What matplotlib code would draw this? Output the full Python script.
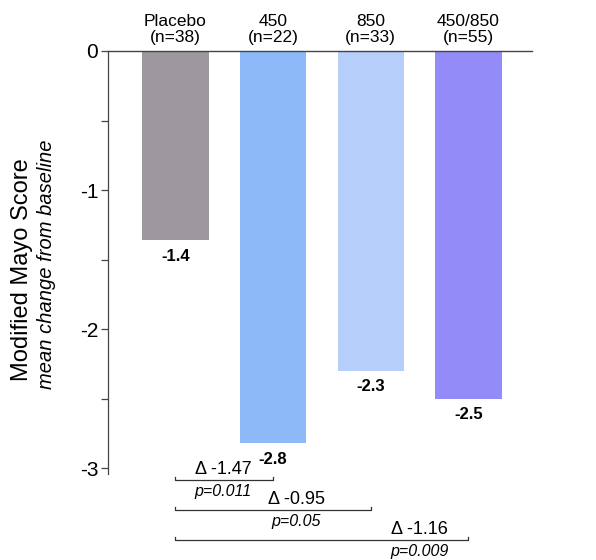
import numpy as np
import matplotlib
matplotlib.use('Agg')
import matplotlib.pyplot as plt

plt.rcParams['font.family'] = ['Liberation Sans', 'DejaVu Sans']

# Data
groups = ['Placebo', '450', '850', '450/850']
n_values = [38, 22, 33, 55]
mean_change = [-1.36, -2.82, -2.30, -2.50]
colors = ['#9c989d', '#8db9f8', '#b6cefa', '#938cf8']

# Pairwise comparisons vs placebo
comp_to = [1, 2, 3]
comp_delta = ['-1.47', '-0.95', '-1.16']
comp_p = ['0.011', '0.05', '0.009']
comp_text_x = [0.49, 1.24, 2.5]      # where the labels sit along each bracket
comp_y = [-3.085, -3.30, -3.515]

fig = plt.figure(figsize=(5.96, 5.6), dpi=100)
ax = fig.add_axes([108 / 596, 1 - 474 / 560, (532 - 108) / 596, (474 - 51) / 560])

x = np.arange(len(groups))
ax.bar(x, mean_change, width=0.68, color=colors, zorder=2)

# value labels under each bar
for xi, v in zip(x, mean_change):
    ax.text(xi, v - 0.06, f'{v:.1f}', ha='center', va='top',
            fontsize=12, fontweight='bold')

# group headers above the zero line
for xi, g, n in zip(x, groups, n_values):
    ax.text(xi, 0.04, f'{g}\n(n={n})', ha='center', va='bottom',
            fontsize=12.5, linespacing=1.1)

ax.set_xlim(-0.69, 3.65)
ax.set_ylim(-3.04, 0)
ax.set_xticks([])
ax.set_yticks([0, -1, -2, -3])
ax.set_yticklabels(['0', '-1', '-2', '-3'], fontsize=15)
ax.set_yticks([-0.5, -1.5, -2.5], minor=True)
ax.tick_params(axis='y', which='both', direction='out', length=5,
               width=0.9, color='#444444', pad=2)

for s in ['right', 'bottom']:
    ax.spines[s].set_visible(False)
ax.spines['left'].set_color('#444444')
ax.spines['top'].set_color('#444444')
ax.spines['left'].set_linewidth(0.9)
ax.spines['top'].set_linewidth(1.0)

# brackets
for end, d, p, tx, y in zip(comp_to, comp_delta, comp_p, comp_text_x, comp_y):
    ax.plot([0, 0, end, end], [y + 0.025, y, y, y + 0.025],
            color='#333333', lw=0.9, clip_on=False)
    ax.text(tx, y + 0.015, f'\u0394 {d}', ha='center', va='bottom',
            fontsize=13, clip_on=False)
    ax.text(tx, y - 0.03, f'p={p}', ha='center', va='top',
            fontsize=11.5, style='italic', clip_on=False)

fig.text(22 / 596, 1 - 270 / 560, 'Modified Mayo Score', rotation=90,
         ha='center', va='center', fontsize=17)
fig.text(47 / 596, 1 - 264 / 560, 'mean change from baseline', rotation=90,
         ha='center', va='center', fontsize=14.5, style='italic')

fig.savefig('out.png', dpi=100)
